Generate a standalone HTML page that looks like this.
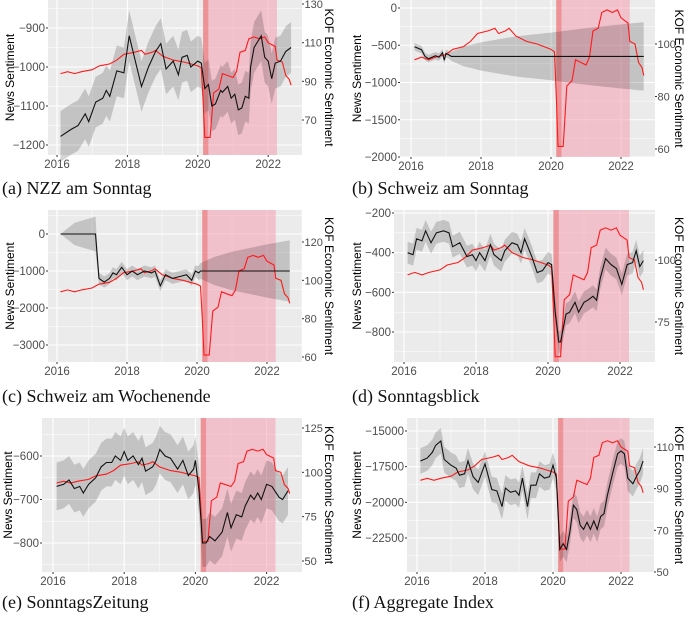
<!DOCTYPE html>
<html><head><meta charset="utf-8"><style>
body{margin:0;background:#fff;width:685px;height:620px;overflow:hidden}
svg{display:block}
.cap{font-family:"Liberation Serif",serif;font-size:18px;fill:#111}
.tk{font-family:"Liberation Sans",sans-serif;font-size:11.5px;fill:#4d4d4d}
.tkr{font-family:"Liberation Sans",sans-serif;font-size:11px;fill:#4d4d4d}
.ttl{font-family:"Liberation Sans",sans-serif;font-size:12px;fill:#000}
</style></head><body>
<svg id="chart" width="685" height="620" viewBox="0 0 685 620" xmlns="http://www.w3.org/2000/svg"></svg>
<script>
// KOF economic sentiment (shared red series)
const kofDates=[2016.1,2016.3,2016.5,2016.7,2017.0,2017.2,2017.5,2017.7,2017.9,2018.2,2018.4,2018.5,2018.7,2018.8,2019.0,2019.3,2019.6,2019.8,2020.0,2020.1,2020.15,2020.2,2020.35,2020.45,2020.6,2020.7,2020.85,2021.0,2021.1,2021.2,2021.35,2021.45,2021.6,2021.75,2021.9,2022.0,2022.1,2022.2,2022.25,2022.4,2022.5,2022.6,2022.65];
const kofVals=[94,95,94,95,96,98,99,101,104,105,106,104,105,106,103,101,100,99,98,97,80,61,61,84,86,94,93,92,95,105,106,112,113,112,113,110,109,108,101,100,93,91,88];
// Panel a: NZZ am Sonntag
const datesA=[2016.1,2016.4,2016.6,2016.8,2016.9,2017.1,2017.3,2017.4,2017.5,2017.7,2017.9,2018.05,2018.2,2018.4,2018.6,2018.8,2018.95,2019.1,2019.3,2019.45,2019.55,2019.7,2019.8,2020.0,2020.1,2020.2,2020.3,2020.4,2020.5,2020.65,2020.7,2020.85,2020.95,2021.05,2021.15,2021.25,2021.35,2021.45,2021.5,2021.6,2021.8,2021.9,2022.0,2022.1,2022.2,2022.35,2022.5,2022.65];
const valsA=[-1178,-1160,-1150,-1120,-1140,-1090,-1080,-1060,-1075,-1010,-1015,-920,-975,-1050,-1000,-960,-940,-1005,-985,-1020,-975,-970,-1000,-985,-990,-1055,-1045,-1100,-1095,-1060,-1065,-1050,-1080,-1070,-1110,-1105,-1075,-1080,-1000,-950,-920,-975,-985,-1030,-990,-985,-960,-950];
const bandA=[65];
// Panel b: Schweiz am Sonntag
const datesB=[2016.1,2016.3,2016.4,2016.5,2016.7,2016.8,2016.9,2016.95,2017.0,2017.05,2017.15,2022.65];
const valsB=[-520,-560,-650,-680,-640,-660,-600,-700,-610,-620,-650,-650];
const fanDatesB=[2016.1,2017.1,2017.5,2018,2018.5,2019,2020,2021,2022,2022.65];
const fanWB=[50,50,130,190,230,270,320,380,430,460];
// Panel c: Schweiz am Wochenende
const datesC=[2016.1,2017.1,2017.2,2017.35,2017.5,2017.6,2017.7,2017.85,2018.0,2018.15,2018.3,2018.5,2018.7,2018.8,2018.95,2019.1,2019.3,2019.5,2019.7,2019.85,2019.95,2020.05,2020.1,2022.65];
const valsC=[0,0,-1200,-1300,-1200,-1050,-1100,-900,-1100,-1000,-1100,-1000,-1050,-1000,-1400,-1100,-1200,-1150,-1100,-1250,-1000,-1050,-1000,-1000];
const fanDatesC=[2016.1,2016.5,2017.1,2017.2,2019.95,2020.5,2021,2022,2022.65];
const fanWC=[0,300,470,150,150,380,520,720,830];
// Panel d: Sonntagsblick
const datesD=[2016.1,2016.25,2016.35,2016.5,2016.6,2016.75,2016.9,2017.1,2017.25,2017.35,2017.55,2017.75,2017.9,2018.0,2018.1,2018.25,2018.4,2018.5,2018.7,2018.8,2019.0,2019.15,2019.25,2019.35,2019.55,2019.7,2019.85,2020.0,2020.1,2020.2,2020.3,2020.35,2020.5,2020.6,2020.75,2020.85,2021.0,2021.1,2021.25,2021.35,2021.45,2021.6,2021.75,2021.9,2022.05,2022.2,2022.35,2022.45,2022.55,2022.65];
const valsD=[-400,-410,-330,-340,-290,-350,-300,-290,-300,-370,-350,-420,-410,-440,-400,-440,-360,-410,-440,-390,-350,-360,-400,-330,-420,-500,-490,-450,-460,-700,-850,-850,-710,-700,-650,-700,-650,-640,-620,-640,-530,-430,-460,-480,-560,-460,-450,-390,-470,-440];
const bandD=[55];
// Panel e: SonntagsZeitung
const datesE=[2016.1,2016.3,2016.45,2016.6,2016.75,2016.85,2017.0,2017.2,2017.35,2017.5,2017.65,2017.75,2017.9,2018.0,2018.1,2018.25,2018.4,2018.5,2018.6,2018.8,2018.9,2019.0,2019.15,2019.3,2019.5,2019.65,2019.8,2019.95,2020.0,2020.1,2020.2,2020.3,2020.4,2020.55,2020.75,2020.9,2021.0,2021.15,2021.3,2021.4,2021.55,2021.65,2021.75,2021.85,2022.0,2022.15,2022.35,2022.45,2022.6];
const valsE=[-670,-665,-655,-675,-670,-685,-665,-650,-625,-615,-615,-600,-610,-590,-610,-600,-620,-605,-635,-625,-610,-585,-600,-605,-630,-610,-645,-630,-610,-680,-800,-800,-785,-795,-775,-730,-765,-735,-740,-715,-690,-700,-685,-700,-665,-670,-695,-700,-680];
const bandE=[55];
// Panel f: Aggregate Index
const datesF=[2016.1,2016.3,2016.45,2016.55,2016.7,2016.8,2017.0,2017.15,2017.25,2017.4,2017.5,2017.65,2017.8,2018.0,2018.2,2018.35,2018.5,2018.6,2018.75,2018.9,2019.0,2019.1,2019.25,2019.35,2019.5,2019.6,2019.75,2019.9,2020.0,2020.1,2020.2,2020.3,2020.4,2020.5,2020.6,2020.7,2020.8,2020.9,2021.0,2021.1,2021.2,2021.3,2021.4,2021.5,2021.6,2021.75,2021.9,2022.0,2022.1,2022.2,2022.35,2022.45,2022.55,2022.65];
const valsF=[-17100,-16900,-16500,-16000,-15700,-17000,-17400,-17600,-18100,-18000,-17100,-18200,-18600,-17300,-19100,-19200,-20300,-19000,-19300,-19200,-19500,-18300,-20300,-18800,-18800,-18000,-18300,-18200,-17400,-18300,-23300,-22900,-23300,-22000,-20200,-20500,-21600,-21900,-21400,-21900,-21300,-21900,-21000,-20800,-19500,-18000,-16600,-16400,-16600,-18300,-18700,-18200,-17800,-17100];
const bandF=[900];
const xTicks=[2016,2018,2020,2022];
const leftTicksA=[-900,-1000,-1100,-1200], rightTicksA=[130,110,90,70];
const leftTicksB=[0,-500,-1000,-1500,-2000], rightTicksB=[100,80,60];
const leftTicksC=[0,-1000,-2000,-3000], rightTicksC=[120,100,80,60];
const leftTicksD=[-200,-400,-600,-800], rightTicksD=[100,75];
const leftTicksE=[-600,-700,-800], rightTicksE=[125,100,75,50];
const leftTicksF=[-15000,-17500,-20000,-22500], rightTicksF=[110,90,70,50];
const leftLabelsF=['\u221215000','\u221217500','\u221220000','\u221222500'];

const NS='http://www.w3.org/2000/svg';
const svg=document.getElementById('chart');
function mk(tag,attrs,parent){const e=document.createElementNS(NS,tag);for(const k in attrs)e.setAttribute(k,attrs[k]);(parent||svg).appendChild(e);return e;}
function interp(ds,ws,t){if(t<=ds[0])return ws[0];for(let i=1;i<ds.length;i++){if(t<=ds[i]){const f=(t-ds[i-1])/(ds[i]-ds[i-1]);return ws[i-1]+f*(ws[i]-ws[i-1]);}}return ws[ws.length-1];}

function panel(p){
  const g=mk('g',{});
  
  
  const X=t=>p.x2016+(t-2016)*p.pxYear;
  const YL=v=>p.l1y+(v-p.l1)*(p.l2y-p.l1y)/(p.l2-p.l1);
  const YR=v=>p.r1y+(v-p.r1)*(p.r2y-p.r1y)/(p.r2-p.r1);
  const bg=mk('rect',{x:p.x0,y:p.y0,width:p.x1-p.x0,height:p.y1-p.y0,fill:'#ebebeb'},g);
  
  
  for(let yr=2015;yr<=2023;yr++){const x=X(yr);if(x<p.x0||x>p.x1)continue;mk('line',{x1:x,x2:x,y1:p.y0,y2:p.y1,stroke:'#fff','stroke-width':yr%2==0?1.1:0.5},g);}
  const lt=p.lt, step=lt[0]-lt[1];
  for(let i=-1;i<=lt.length;i++){
    const v=lt[0]-i*step; const y=YL(v);
    if(y>=p.y0&&y<=p.y1)mk('line',{x1:p.x0,x2:p.x1,y1:y,y2:y,stroke:'#fff','stroke-width':1.1},g);
    const ym=YL(v-step/2); if(ym>=p.y0&&ym<=p.y1)mk('line',{x1:p.x0,x2:p.x1,y1:ym,y2:ym,stroke:'#fff','stroke-width':0.5},g);
  }
  const pk=mk('rect',{x:X(2020.15),y:p.y0,width:X(2022.25)-X(2020.15),height:p.y1-p.y0,fill:'rgb(246,150,172)','fill-opacity':0.5},g);
  
  
  mk('rect',{x:X(2020.15),y:p.y0,width:X(2020.3)-X(2020.15),height:p.y1-p.y0,fill:'rgb(235,110,110)','fill-opacity':0.55},g);
  const up=[],lo=[];
  let bd=p.dates;
  if(p.fanD){bd=[];const s=p.dates[0],e=p.dates[p.dates.length-1];for(let t=s;t<=e+1e-6;t+=0.05)bd.push(t);}
  bd.forEach(t=>{const v=interp(p.dates,p.vals,t);const w=p.fanD?interp(p.fanD,p.fanW,t):p.band[0];up.push(X(t).toFixed(1)+','+YL(v+w).toFixed(1));lo.push(X(t).toFixed(1)+','+YL(v-w).toFixed(1));});
  const band=mk('polygon',{points:up.concat(lo.reverse()).join(' '),fill:'#000','fill-opacity':0.17},g);
  
  
  const red=mk('polyline',{points:kofDates.map((t,i)=>X(t).toFixed(1)+','+YR(kofVals[i]).toFixed(1)).join(' '),fill:'none',stroke:'#ff1a1a','stroke-width':1.1},g);
  
  
  const blk=mk('polyline',{points:p.dates.map((t,i)=>X(t).toFixed(1)+','+YL(p.vals[i]).toFixed(1)).join(' '),fill:'none',stroke:'#111','stroke-width':1.1},g);
  
  
  xTicks.forEach(t=>{const x=X(t);mk('line',{x1:x,x2:x,y1:p.y1,y2:p.y1+2,stroke:'#333'},g);const tx=mk('text',{x:x,y:p.y1+13,'text-anchor':'middle',class:'tk'},g);tx.textContent=t;});
  p.lt.forEach((v,i)=>{const y=YL(v);mk('line',{x1:p.x0-2,x2:p.x0,y1:y,y2:y,stroke:'#333'},g);const tx=mk('text',{x:p.x0-3,y:y+4,'text-anchor':'end',class:'tk'},g);tx.textContent=p.ll?p.ll[i]:(v<0?'\u2212'+(-v):v);});
  p.rt.forEach(v=>{const y=YR(v);mk('line',{x1:p.x1,x2:p.x1+2,y1:y,y2:y,stroke:'#333'},g);const tx=mk('text',{x:p.x1+2.5,y:y+4,class:'tkr'},g);tx.textContent=v;});
  const cy=(p.y0+p.y1)/2;
  const lt2=mk('text',{x:0,y:0,'text-anchor':'middle',class:'ttl',transform:`translate(${p.ltx},${cy}) rotate(-90)`},g);
  lt2.textContent='News Sentiment';
  const rt2=mk('text',{x:0,y:0,'text-anchor':'middle',class:'ttl',transform:`translate(${p.rtx},${cy}) rotate(90)`},g);
  rt2.textContent='KOF Economic Sentiment';
  const cp=mk('text',{x:p.capx,y:p.capy,class:'cap'},g);
  cp.textContent=p.cap;
}
panel({name:'panel-a-nzz-am-sonntag',x0:48,x1:302,y0:0,y1:155,x2016:57,pxYear:35.2,l1:-900,l1y:28,l2:-1200,l2y:145,r1:130,r1y:4,r2:70,r2y:120,lt:leftTicksA,rt:rightTicksA,dates:datesA,vals:valsA,band:bandA,ltx:14,rtx:325,cap:'(a) NZZ am Sonntag',capx:2,capy:194});
panel({name:'panel-b-schweiz-am-sonntag',x0:400,x1:655,y0:0,y1:157,x2016:411,pxYear:35,l1:0,l1y:8,l2:-2000,l2y:157,r1:100,r1y:44,r2:60,r2y:149,lt:leftTicksB,rt:rightTicksB,dates:datesB,vals:valsB,fanD:fanDatesB,fanW:fanWB,ltx:361,rtx:675,cap:'(b) Schweiz am Sonntag',capx:352,capy:194});
panel({name:'panel-c-schweiz-am-wochenende',x0:48,x1:302,y0:210,y1:362,x2016:57,pxYear:35,l1:0,l1y:234,l2:-3000,l2y:345,r1:120,r1y:242,r2:60,r2y:357,lt:leftTicksC,rt:rightTicksC,dates:datesC,vals:valsC,fanD:fanDatesC,fanW:fanWC,ltx:14,rtx:325,cap:'(c) Schweiz am Wochenende',capx:2,capy:402});
panel({name:'panel-d-sonntagsblick',x0:394,x1:655,y0:210,y1:362,x2016:404,pxYear:36,l1:-200,l1y:213,l2:-800,l2y:332,r1:100,r1y:260,r2:75,r2y:322,lt:leftTicksD,rt:rightTicksD,dates:datesD,vals:valsD,band:bandD,ltx:361,rtx:675,cap:'(d) Sonntagsblick',capx:352,capy:402});
panel({name:'panel-e-sonntagszeitung',x0:42,x1:302,y0:418,y1:572,x2016:53,pxYear:35.6,l1:-600,l1y:456,l2:-800,l2y:543,r1:125,r1y:428,r2:50,r2y:561,lt:leftTicksE,rt:rightTicksE,dates:datesE,vals:valsE,band:bandE,ltx:12,rtx:325,cap:'(e) SonntagsZeitung',capx:2,capy:608});
panel({name:'panel-f-aggregate-index',x0:407,x1:654,y0:418,y1:572,x2016:417,pxYear:34,l1:-15000,l1y:431,l2:-22500,l2y:538,r1:110,r1y:447,r2:50,r2y:572,lt:leftTicksF,ll:leftLabelsF,rt:rightTicksF,dates:datesF,vals:valsF,band:bandF,ltx:361,rtx:675,cap:'(f) Aggregate Index',capx:352,capy:608});
</script>
</body></html>
